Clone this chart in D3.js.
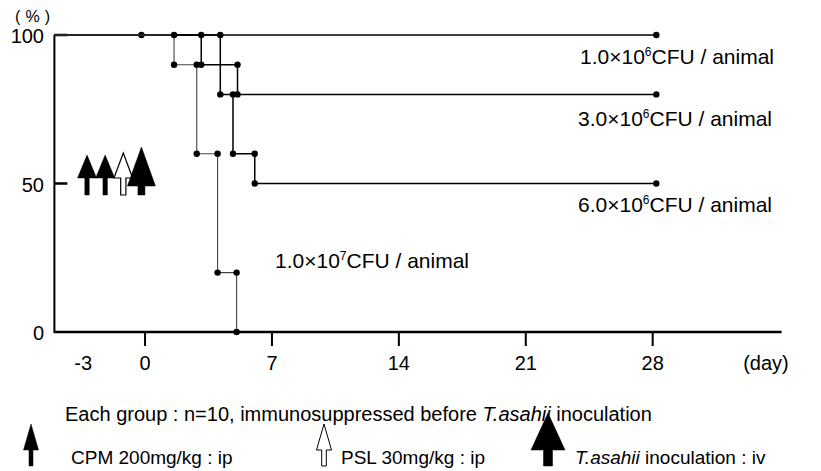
<!DOCTYPE html>
<html>
<head>
<meta charset="utf-8">
<script src="https://cdn.jsdelivr.net/npm/d3@7"></script>
<style>
  body { margin: 0; background: #fff; }
  svg { font-family: "Liberation Sans", Arial, sans-serif; }
</style>
</head>
<body>
<svg id="chart" width="821" height="471"></svg>
<script>
// Tick labels
const xTickValues = [-3, 0, 7, 14, 21, 28];
const yTickValues = [0, 50, 100];

// Survival curves: day of each death step and survival (%) after it
const groupNames = ["1.0×10|6|CFU / animal", "3.0×10|6|CFU / animal", "6.0×10|6|CFU / animal", "1.0×10|7|CFU / animal"];
const stepDays = [
  [],
  [3.1, 5.1],
  [4.15, 4.85, 6.05],
  [1.6, 2.85, 4.0, 5.05]
];
const stepSurvival = [
  [],
  [90, 80],
  [80, 60, 50],
  [90, 60, 20, 0]
];
const startDay = -0.2;   // inoculation dot on the 100% line
const endDay = 28.2;     // end of observation

// Treatment arrows drawn in the chart
const arrowDays = [-3.2, -2.2, -1.2, -0.2];
const arrowTypes = ["CPM", "CPM", "PSL", "inoc"];

// Legend
const legendTypes = ["CPM", "PSL", "inoc"];

const svg = d3.select("#chart");

// Scales
const x = d3.scaleLinear().domain([-5, 35]).range([54.4, 779.6]);
const y = d3.scaleLinear().domain([0, 100]).range([332, 35]);

// Axes
svg.append("line")
  .attr("x1", x(-5)).attr("x2", x(35) + 2)
  .attr("y1", y(0)).attr("y2", y(0))
  .attr("stroke", "#000").attr("stroke-width", 2.5);
svg.append("line")
  .attr("x1", x(-5)).attr("x2", x(-5))
  .attr("y1", y(0) + 1).attr("y2", y(100))
  .attr("stroke", "#000").attr("stroke-width", 2);

// x ticks (no mark at -3)
svg.selectAll(".xtick")
  .data(xTickValues.filter(d => d >= 0))
  .enter().append("line")
  .attr("class", "xtick")
  .attr("x1", d => x(d)).attr("x2", d => x(d))
  .attr("y1", y(0)).attr("y2", y(0) + 14)
  .attr("stroke", "#000").attr("stroke-width", 2);

svg.selectAll(".xlabel")
  .data(xTickValues)
  .enter().append("text")
  .attr("class", "xlabel")
  .attr("x", d => d < 0 ? x(d) + 1.5 : x(d))
  .attr("y", 370)
  .attr("text-anchor", d => d < 0 ? "end" : "middle")
  .attr("font-size", 20)
  .text(d => d);

svg.append("text")
  .attr("x", 766).attr("y", 370)
  .attr("text-anchor", "middle")
  .attr("font-size", 20)
  .text("(day)");

// y ticks point inward
svg.selectAll(".ytick")
  .data(yTickValues.filter(d => d > 0))
  .enter().append("line")
  .attr("class", "ytick")
  .attr("x1", x(-5)).attr("x2", x(-5) + 13)
  .attr("y1", d => y(d)).attr("y2", d => y(d))
  .attr("stroke", "#000").attr("stroke-width", 2.5);

svg.selectAll(".ylabel")
  .data(yTickValues)
  .enter().append("text")
  .attr("class", "ylabel")
  .attr("x", 44)
  .attr("y", d => y(d) + 8)
  .attr("text-anchor", "end")
  .attr("font-size", 20)
  .text(d => d);

svg.append("text")
  .attr("x", 15).attr("y", 22)
  .attr("font-size", 16)
  .attr("textLength", 35)
  .attr("lengthAdjust", "spacing")
  .text("(%)");

// Build step points for each group
const line = d3.line()
  .x(d => x(d[0]))
  .y(d => y(d[1]))
  .curve(d3.curveStepAfter);

groupNames.forEach((name, i) => {
  const pts = [[-5, 100]];
  const dots = [];
  let prev = 100;
  stepDays[i].forEach((day, j) => {
    pts.push([day, stepSurvival[i][j]]);
    dots.push([day, prev], [day, stepSurvival[i][j]]);
    prev = stepSurvival[i][j];
  });
  if (prev > 0) {
    pts.push([endDay, prev]);
    dots.push([endDay, prev]);
  }
  if (i === 0) dots.push([startDay, 100]);

  const thin = i === 3;
  svg.append("path")
    .datum(pts)
    .attr("d", line)
    .attr("fill", "none")
    .attr("stroke", thin ? "#444" : "#000")
    .attr("stroke-width", thin ? 1.1 : 1.5);

  svg.selectAll(".dot" + i)
    .data(dots)
    .enter().append("circle")
    .attr("class", "dot" + i)
    .attr("cx", d => x(d[0]))
    .attr("cy", d => y(d[1]))
    .attr("r", 3.2)
    .attr("fill", "#000");
});

// Group labels
const labelPos = [[580, 64], [578, 126], [578, 212], [275, 268]];
groupNames.forEach((name, i) => {
  const parts = name.split("|");
  const t = svg.append("text")
    .attr("x", labelPos[i][0]).attr("y", labelPos[i][1])
    .attr("font-size", 21);
  t.append("tspan").text(parts[0]);
  t.append("tspan").attr("font-size", 12).attr("dy", -8).text(parts[1]);
  t.append("tspan").attr("dy", 8).text(parts[2]);
});

// Arrow shapes
const arrowStyle = {
  CPM:  { hw: 9.5, sh: 2.2, top: 23, base: 0, fill: "#000" },
  PSL:  { hw: 9.3, sh: 2.6, top: 25, base: 0, fill: "#fff" },
  inoc: { hw: 14,  sh: 3.5, top: 39, base: 8, fill: "#000" }
};

function arrowPath(cx, baseY, bottomY, s) {
  const b = baseY + s.base;
  const a = baseY - s.top + s.base;
  return `M${cx},${a} L${cx + s.hw},${b} L${cx + s.sh},${b} L${cx + s.sh},${bottomY}` +
         ` L${cx - s.sh},${bottomY} L${cx - s.sh},${b} L${cx - s.hw},${b} Z`;
}

// Draw in order so the big arrow sits on top
arrowDays.forEach((day, i) => {
  const s = arrowStyle[arrowTypes[i]];
  svg.append("path")
    .attr("d", arrowPath(x(day), 178, 195, s))
    .attr("fill", s.fill)
    .attr("stroke", "#000")
    .attr("stroke-width", s.fill === "#fff" ? 1.2 : 0.5);
});

// Legend
svg.append("text")
  .attr("x", 65).attr("y", 421)
  .attr("font-size", 20)
  .call(t => {
    t.append("tspan").text("Each group : n=10, immunosuppressed before ");
    t.append("tspan").attr("font-style", "italic").text(" T.asahii");
    t.append("tspan").text(" inoculation");
  });

const legendX = [31, 324, 548];
const legendSize = {
  CPM:  { hw: 7.5, sh: 2, top: 26, base: 0, fill: "#000" },
  PSL:  { hw: 7.5, sh: 2.3, top: 26, base: 0, fill: "#fff" },
  inoc: { hw: 17,  sh: 4.5, top: 37, base: 0, fill: "#000" }
};
legendTypes.forEach((type, i) => {
  const s = legendSize[type];
  svg.append("path")
    .attr("d", arrowPath(legendX[i], 450, 466, s))
    .attr("fill", s.fill)
    .attr("stroke", "#000")
    .attr("stroke-width", s.fill === "#fff" ? 1 : 0.5);
});

svg.append("text").attr("x", 71).attr("y", 464).attr("font-size", 19)
  .text("CPM 200mg/kg : ip");
svg.append("text").attr("x", 341).attr("y", 464).attr("font-size", 19)
  .text("PSL 30mg/kg : ip");
svg.append("text").attr("x", 575).attr("y", 464).attr("font-size", 19)
  .call(t => {
    t.append("tspan").attr("font-style", "italic").text("T.asahii");
    t.append("tspan").text("  inoculation : iv");
  });
</script>
</body>
</html>
